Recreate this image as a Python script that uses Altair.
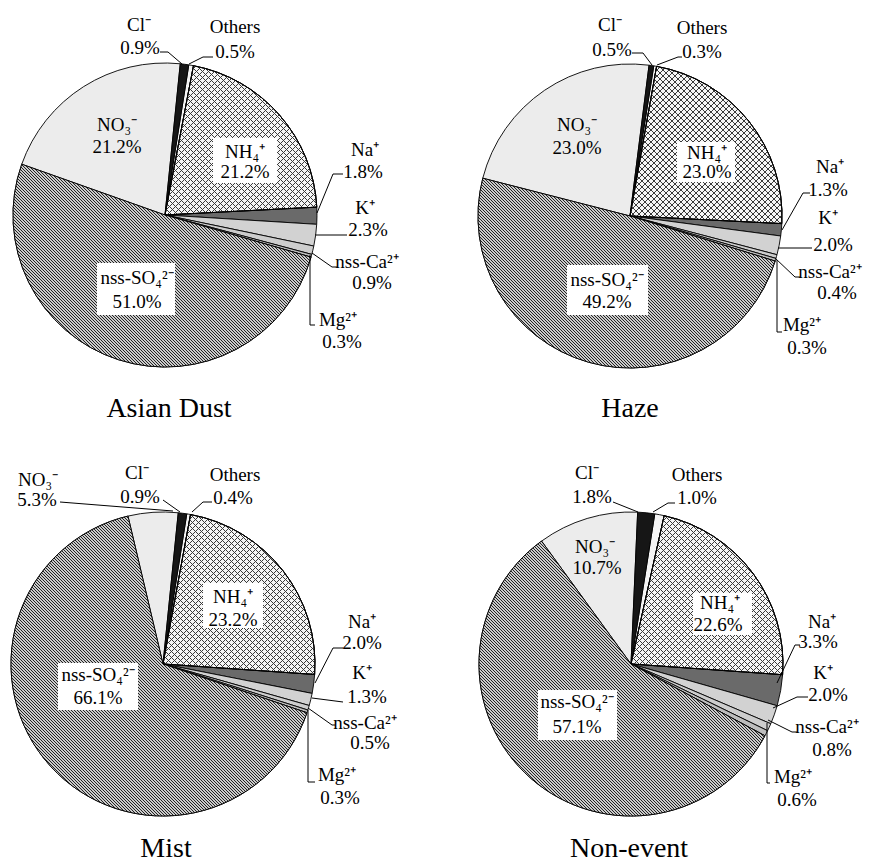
import math
import altair as alt
import pandas as pd

# ---------------- data ----------------
IONS = ["Others", "NH4+", "Na+", "K+", "nss-Ca2+", "Mg2+", "nss-SO42-", "NO3-", "Cl-"]
ION_LABELS = ["Others", "NH₄⁺", "Na⁺", "K⁺", "nss-Ca²⁺", "Mg²⁺", "nss-SO₄²⁻", "NO₃⁻", "Cl⁻"]
EVENTS = ["Asian Dust", "Haze", "Mist", "Non-event"]
ASIAN_DUST = [0.5, 21.2, 1.8, 2.3, 0.9, 0.3, 51.0, 21.2, 0.9]
HAZE = [0.3, 23.0, 1.3, 2.0, 0.4, 0.3, 49.2, 23.0, 0.5]
MIST = [0.4, 23.2, 2.0, 1.3, 0.5, 0.3, 66.1, 5.3, 0.9]
NON_EVENT = [1.0, 22.6, 3.3, 2.0, 0.8, 0.6, 57.1, 10.7, 1.8]
VALUES = {"Asian Dust": ASIAN_DUST, "Haze": HAZE, "Mist": MIST, "Non-event": NON_EVENT}

# ---------------- style ----------------
FILLS = {
    "Others": "#f4f4f4", "NH4+": "#f6f6f6", "Na+": "#6a6a6a", "K+": "#d2d2d2",
    "nss-Ca2+": "#cdcdcd", "Mg2+": "#bdbdbd", "nss-SO42-": "#8e8e8e",
    "NO3-": "#ececec", "Cl-": "#161616",
}
CLEAR = "rgba(255,255,255,0)"
# (ion, line direction, period px, dark width px, dark colour, light colour)
HATCHES = [
    ("nss-SO42-", "\\", 3, 1, "#222222", "#cbcbcb"),
    ("NH4+", "\\", 6, 1, "#3a3a3a", CLEAR),
    ("NH4+", "/", 6, 1, "#3a3a3a", CLEAR),
]
FONT = "Liberation Serif"
LABEL_SIZE = 19
TITLE_SIZE = 28
START_ANGLE = math.radians(9)
R = 152
PANEL_W, PANEL_H = 435, 433

# ---------------- annotation layout (pixel offsets from each pie centre) ----------------
LAYOUT = {
    "Asian Dust": {
        "center": (165, 215), "title": (4, 202),
        "names": {"Cl-": (-26, -190), "Others": (70, -188), "NO3-": (-48, -90), "NH4+": (80, -63),
                  "Na+": (200, -65), "K+": (200, -7), "nss-Ca2+": (202, 47), "Mg2+": (173, 105),
                  "nss-SO42-": (-28, 63)},
        "pcts": {"Cl-": (-25, -167), "Others": (70, -163), "NO3-": (-48, -68), "NH4+": (80, -43),
                 "Na+": (198, -43), "K+": (203, 15), "nss-Ca2+": (207, 68), "Mg2+": (177, 127),
                 "nss-SO42-": (-28, 87)},
        "leaders": {"Cl-": [(-5, -163), (3, -163), (17, -151)],
                    "Others": [(24, -151), (38, -158), (48, -158)],
                    "Na+": [(178, -41), (168, -41), (152, -2)],
                    "K+": [(150, 20), (182, 20)],
                    "nss-Ca2+": [(147, 38), (167, 52), (172, 52)],
                    "Mg2+": [(145, 40), (145, 110), (150, 110)]},
        "boxes": {"NH4+": (48, 112, -77, -32), "nss-SO42-": (-68, 10, 48, 100)},
    },
    "Haze": {
        "center": (195, 216), "title": (0, 201),
        "names": {"Cl-": (-20, -191), "Others": (72, -188), "NO3-": (-53, -91), "NH4+": (77, -63),
                  "Na+": (200, -49), "K+": (198, 2), "nss-Ca2+": (200, 56), "Mg2+": (172, 109),
                  "nss-SO42-": (-23, 64)},
        "pcts": {"Cl-": (-18, -166), "Others": (72, -164), "NO3-": (-53, -68), "NH4+": (77, -44),
                 "Na+": (198, -26), "K+": (203, 29), "nss-Ca2+": (207, 77), "Mg2+": (177, 132),
                 "nss-SO42-": (-23, 86)},
        "leaders": {"Cl-": [(2, -163), (13, -163), (22, -151)],
                    "Others": [(27, -151), (48, -159), (52, -159)],
                    "Na+": [(152, 14), (173, -23), (180, -23)],
                    "K+": [(148, 32), (182, 32)],
                    "nss-Ca2+": [(145, 42), (165, 61), (170, 61)],
                    "Mg2+": [(147, 44), (147, 116), (152, 116)]},
        "boxes": {"NH4+": (47, 105, -74, -34), "nss-SO42-": (-63, 18, 49, 99)},
    },
    "Mist": {
        "center": (163, 231), "title": (3, 193),
        "names": {"NO3-": (-125, -184), "Cl-": (-26, -191), "Others": (72, -189), "NH4+": (70, -67),
                  "Na+": (199, -42), "K+": (199, 9), "nss-Ca2+": (202, 59), "Mg2+": (174, 111),
                  "nss-SO42-": (-65, 11)},
        "pcts": {"NO3-": (-126, -164), "Cl-": (-23, -167), "Others": (70, -166), "NH4+": (70, -44),
                 "Na+": (199, -21), "K+": (204, 33), "nss-Ca2+": (207, 79), "Mg2+": (177, 134),
                 "nss-SO42-": (-65, 34)},
        "leaders": {"NO3-": [(-103, -162), (10, -153)],
                    "Cl-": [(0, -164), (17, -152)],
                    "Others": [(29, -152), (40, -162), (49, -162)],
                    "Na+": [(152, 19), (170, -16), (180, -16)],
                    "K+": [(149, 34), (180, 38)],
                    "nss-Ca2+": [(145, 44), (169, 61), (172, 61)],
                    "Mg2+": [(145, 46), (145, 118), (152, 118)]},
        "boxes": {"NH4+": (40, 100, -81, -36), "nss-SO42-": (-105, -25, -1, 46)},
    },
    "Non-event": {
        "center": (196, 231), "title": (-2, 193),
        "names": {"Cl-": (-44, -191), "Others": (66, -189), "NO3-": (-36, -117), "NH4+": (89, -61),
                  "Na+": (191, -42), "K+": (192, 9), "nss-Ca2+": (196, 63), "Mg2+": (162, 113),
                  "nss-SO42-": (-54, 38)},
        "pcts": {"Cl-": (-39, -167), "Others": (66, -166), "NO3-": (-34, -96), "NH4+": (87, -39),
                 "Na+": (187, -22), "K+": (197, 31), "nss-Ca2+": (201, 86), "Mg2+": (166, 136),
                 "nss-SO42-": (-54, 63)},
        "leaders": {"Cl-": [(-18, -162), (7, -152)],
                    "Others": [(22, -152), (37, -161), (44, -161)],
                    "Na+": [(146, 19), (164, -19), (169, -19)],
                    "K+": [(142, 44), (166, 33), (177, 33)],
                    "nss-Ca2+": [(137, 56), (161, 68), (166, 68)],
                    "Mg2+": [(136, 59), (136, 119), (139, 119)]},
        "boxes": {"NH4+": (62, 121, -71, -29), "nss-SO42-": (-93, -14, 26, 76)},
    },
}


def slice_bbox(vals, ion):
    """Bounding box of a slice, relative to the pie centre (screen y down)."""
    total = sum(vals)
    i = IONS.index(ion)
    a0 = START_ANGLE + 2 * math.pi * sum(vals[:i]) / total
    a1 = START_ANGLE + 2 * math.pi * sum(vals[:i + 1]) / total
    pts = [(0.0, 0.0), (R * math.sin(a0), -R * math.cos(a0)), (R * math.sin(a1), -R * math.cos(a1))]
    k = math.ceil(a0 / (math.pi / 2))
    while k * math.pi / 2 < a1:
        a = k * math.pi / 2
        pts.append((R * math.sin(a), -R * math.cos(a)))
        k += 1
    xs = [p[0] for p in pts]
    ys = [p[1] for p in pts]
    return min(xs), min(ys), max(xs), max(ys)


def hatch_gradient(vals, ion, direction, period, dark_px, dark, light):
    """45° hatch texture as a hard-stop linear gradient fitted to the slice's bounding box.
    The stripe phase is placed so that stripe edges fall between pixel centres (no moire)."""
    x0, y0, x1, y1 = slice_bbox(vals, ion)
    w, h = x1 - x0, y1 - y0
    n = int(math.ceil((w + h) / period)) + 2
    L = n * period
    a = L / (w * w + h * h)
    c = (y1 - x0) % 1.0 if direction == "\\" else (-x0 - y0) % 1.0
    sh = (c + 0.5) % 1.0
    stops = [alt.GradientStop(color=light, offset=0)]
    for j in range(n):
        s = (j * period + sh) / L
        m = (j * period + sh + dark_px) / L
        e = ((j + 1) * period + sh) / L
        if s >= 1:
            break
        stops += [alt.GradientStop(color=light, offset=s), alt.GradientStop(color=dark, offset=s),
                  alt.GradientStop(color=dark, offset=min(m, 1)), alt.GradientStop(color=light, offset=min(m, 1)),
                  alt.GradientStop(color=light, offset=min(e, 1))]
    if direction == "\\":
        return alt.LinearGradient(gradient="linear", stops=stops, x1=0, y1=1, x2=a * w, y2=1 - a * h)
    return alt.LinearGradient(gradient="linear", stops=stops, x1=0, y1=0, x2=a * w, y2=a * h)


def panel(event):
    vals = VALUES[event]
    lay = LAYOUT[event]
    cx, cy = lay["center"]
    xs = alt.Scale(domain=[-cx, PANEL_W - cx], nice=False, zero=False)
    ys = alt.Scale(domain=[-cy, PANEL_H - cy], nice=False, zero=False, reverse=True)
    ts = alt.Scale(domain=[0, 1], range=[START_ANGLE, START_ANGLE + 2 * math.pi])

    pie_df = pd.DataFrame({"ion": IONS, "value": vals, "order": list(range(len(IONS)))})
    pie_base = (
        alt.Chart(pie_df)
        .transform_joinaggregate(total="sum(value)")
        .transform_window(cum="sum(value)", sort=[alt.SortField("order")], frame=[None, 0])
        .transform_calculate(f0="(datum.cum - datum.value) / datum.total", f1="datum.cum / datum.total")
    )
    pos = dict(
        x=alt.X(datum=0, scale=xs, axis=None),
        y=alt.Y(datum=0, scale=ys, axis=None),
        theta=alt.Theta("f0:Q", stack=None, scale=ts),
        theta2="f1:Q",
    )
    arcs = pie_base.mark_arc(radius=R, stroke="black", strokeWidth=0.9).encode(
        fill=alt.Fill("ion:N", scale=alt.Scale(domain=IONS, range=[FILLS[i] for i in IONS]), legend=None),
        **pos,
    )
    layers = [arcs]
    for ion, direction, period, dark_px, dark, light in HATCHES:
        layers.append(
            pie_base.transform_filter(alt.datum.ion == ion)
            .mark_arc(radius=R, stroke="black", strokeWidth=0.9,
                      fill=hatch_gradient(vals, ion, direction, period, dark_px, dark, light))
            .encode(**pos)
        )

    box_rows = [{"ion": k, "x0": b[0], "x1": b[1], "y0": b[2], "y1": b[3]} for k, b in lay["boxes"].items()]
    boxes = alt.Chart(pd.DataFrame(box_rows)).mark_rect(fill="white").encode(
        x=alt.X("x0:Q", scale=xs, axis=None), x2="x1:Q",
        y=alt.Y("y0:Q", scale=ys, axis=None), y2="y1:Q",
    )

    line_rows = []
    for ion, pts in lay["leaders"].items():
        for s, (px, py) in enumerate(pts):
            line_rows.append({"ion": ion, "seq": s, "px": px, "py": py})
    leaders = alt.Chart(pd.DataFrame(line_rows)).mark_line(color="black", strokeWidth=1).encode(
        x=alt.X("px:Q", scale=xs, axis=None),
        y=alt.Y("py:Q", scale=ys, axis=None),
        detail="ion:N", order="seq:Q",
    )

    text_rows = []
    for ion, lab, v in zip(IONS, ION_LABELS, vals):
        nx, ny = lay["names"][ion]
        px, py = lay["pcts"][ion]
        text_rows.append({"t": lab, "tx": nx, "ty": ny})
        text_rows.append({"t": f"{v:.1f}%", "tx": px, "ty": py})
    texts = alt.Chart(pd.DataFrame(text_rows)).mark_text(
        font=FONT, fontSize=LABEL_SIZE, color="black", align="center", baseline="middle"
    ).encode(
        x=alt.X("tx:Q", scale=xs, axis=None),
        y=alt.Y("ty:Q", scale=ys, axis=None),
        text="t:N",
    )

    tx, ty = lay["title"]
    title = alt.Chart(pd.DataFrame([{"t": event, "tx": tx, "ty": ty}])).mark_text(
        font=FONT, fontSize=TITLE_SIZE, color="black", align="center", baseline="alphabetic"
    ).encode(
        x=alt.X("tx:Q", scale=xs, axis=None),
        y=alt.Y("ty:Q", scale=ys, axis=None),
        text="t:N",
    )

    layers += [boxes, leaders, texts, title]
    return alt.layer(*layers).properties(width=PANEL_W, height=PANEL_H)


top = alt.hconcat(panel("Asian Dust"), panel("Haze"), spacing=0)
bottom = alt.hconcat(panel("Mist"), panel("Non-event"), spacing=0)
chart = (
    alt.vconcat(top, bottom, spacing=0, padding=0, background="white")
    .configure_view(stroke=None)
)

chart.save("out.html", embed_options={"renderer": "svg", "actions": False})
